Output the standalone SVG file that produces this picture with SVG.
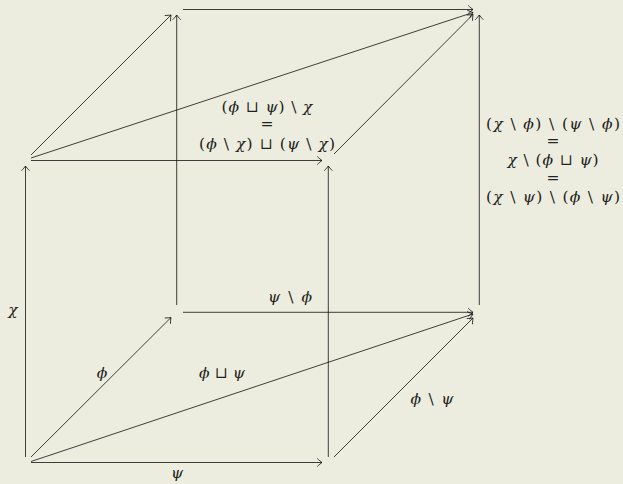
<svg xmlns="http://www.w3.org/2000/svg" width="623" height="484" viewBox="0 0 623 484">
<defs>
<marker id="arr" viewBox="-6 -5 7 10" markerWidth="7" markerHeight="10" refX="0" refY="0" orient="auto" markerUnits="userSpaceOnUse" overflow="visible">
<path d="M -4.5 -3.8 C -3 -2.2 -1 -0.8 0 0 C -1 0.8 -3 2.2 -4.5 3.8" fill="none" stroke="#111" stroke-width="0.8" stroke-linecap="round"/>
</marker>
<style>
.e{stroke:#111;stroke-width:0.8;fill:none;marker-end:url(#arr)}
.t{font-family:"DejaVu Serif","Liberation Serif",serif;font-size:15.5px;fill:#222;text-anchor:middle}
.i{font-style:italic}
</style>
</defs>
<rect width="623" height="484" fill="#ecedde"/>
<g id="connectors">
<line class="e" x1="31" y1="462.5" x2="322" y2="462.5"/>
<line class="e" x1="31" y1="457" x2="171" y2="317.5"/>
<line class="e" x1="31" y1="461.5" x2="473" y2="314"/>
<line class="e" x1="334" y1="457" x2="473" y2="318"/>
<line class="e" x1="183" y1="312.3" x2="473" y2="312.3"/>
<line class="e" x1="25.5" y1="457" x2="25.5" y2="166"/>
<line class="e" x1="176.7" y1="305" x2="176.7" y2="15"/>
<line class="e" x1="328.3" y1="457" x2="328.3" y2="166"/>
<line class="e" x1="479.3" y1="305" x2="479.3" y2="15"/>
<line class="e" x1="31" y1="160.5" x2="322" y2="160.5"/>
<line class="e" x1="31" y1="155" x2="171" y2="15"/>
<line class="e" x1="31" y1="158" x2="473" y2="12.5"/>
<line class="e" x1="334" y1="154" x2="473" y2="14.5"/>
<line class="e" x1="183" y1="9.5" x2="473" y2="9.5"/>
</g>
<g id="labels">
<text class="t i" x="177" y="478">ψ</text>
<text class="t i" x="102" y="378">ϕ</text>
<text class="t" x="222" y="378" textLength="46" lengthAdjust="spacing"><tspan class="i">ϕ</tspan> ⊔ <tspan class="i">ψ</tspan></text>
<text class="t" x="432" y="404" textLength="43" lengthAdjust="spacing"><tspan class="i">ϕ</tspan> \ <tspan class="i">ψ</tspan></text>
<text class="t" x="290" y="302" textLength="44" lengthAdjust="spacing"><tspan class="i">ψ</tspan> \ <tspan class="i">ϕ</tspan></text>
<text class="t i" x="13" y="315">χ</text>
<g id="top-label">
<text class="t" x="267" y="112" textLength="91" lengthAdjust="spacing">(<tspan class="i">ϕ</tspan> ⊔ <tspan class="i">ψ</tspan>) \ <tspan class="i">χ</tspan></text>
<text class="t" x="267" y="129">=</text>
<text class="t" x="267" y="149" textLength="136" lengthAdjust="spacing">(<tspan class="i">ϕ</tspan> \ <tspan class="i">χ</tspan>) ⊔ (<tspan class="i">ψ</tspan> \ <tspan class="i">χ</tspan>)</text>
</g>
<g id="right-label">
<text class="t" x="553" y="129" textLength="134" lengthAdjust="spacing">(<tspan class="i">χ</tspan> \ <tspan class="i">ϕ</tspan>) \ (<tspan class="i">ψ</tspan> \ <tspan class="i">ϕ</tspan>)</text>
<text class="t" x="553" y="146">=</text>
<text class="t" x="553" y="165" textLength="91" lengthAdjust="spacing"><tspan class="i">χ</tspan> \ (<tspan class="i">ϕ</tspan> ⊔ <tspan class="i">ψ</tspan>)</text>
<text class="t" x="553" y="183">=</text>
<text class="t" x="553" y="202" textLength="134" lengthAdjust="spacing">(<tspan class="i">χ</tspan> \ <tspan class="i">ψ</tspan>) \ (<tspan class="i">ϕ</tspan> \ <tspan class="i">ψ</tspan>)</text>
</g>
</g>
</svg>
